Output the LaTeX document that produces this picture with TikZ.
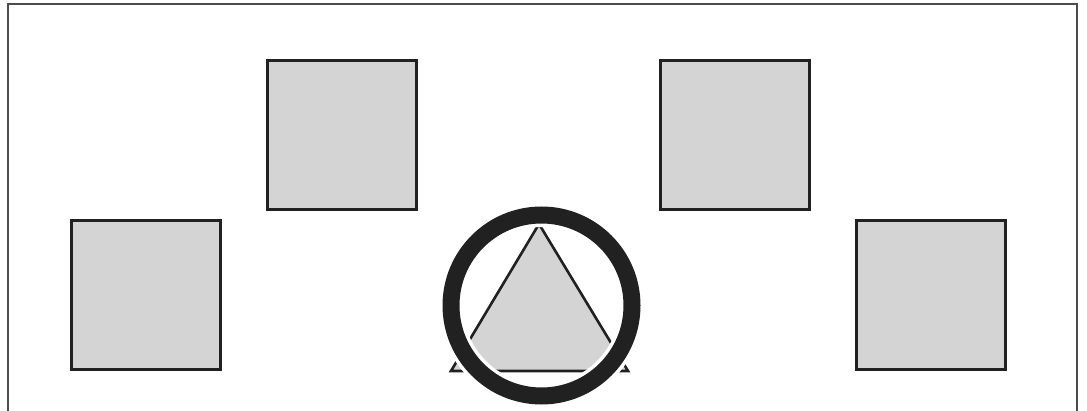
\documentclass[tikz,border=0pt]{standalone}
\begin{document}
\begin{tikzpicture}[x=1pt,y=-1pt,
  boxnode/.style={draw=black!87, line width=3pt, fill=black!17, minimum width=149pt, minimum height=149pt, inner sep=0pt, outer sep=0pt},
  framepen/.style={draw=black!70, line width=2pt}]
\useasboundingbox (0,0) rectangle (1087,411);
\fill[white] (0,0) rectangle (1087,411);
% frame (its lower edge lies below the picture)
\draw[framepen] (8,411) -- (8,4) -- (1077,4) -- (1077,411);
% four squares
\node[boxnode] (tl) at (342,135) {};
\node[boxnode] (tr) at (734.5,135) {};
\node[boxnode] (bl) at (146,295) {};
\node[boxnode] (br) at (931,295) {};
% triangle inside the ring
\coordinate (apex) at (539,224);
\coordinate (bleft) at (451,371);
\coordinate (bright) at (628,371);
\draw[fill=black!17, draw=black!87, line width=2.6pt, line join=miter] (apex) -- (bleft) -- (bright) -- cycle;
% ring with a white halo
\coordinate (c) at (541.5,305.5);
\draw[white, line width=24pt] (c) circle[radius=90.5];
\draw[black!87, line width=17pt] (c) circle[radius=90.5];
\end{tikzpicture}
\end{document}
